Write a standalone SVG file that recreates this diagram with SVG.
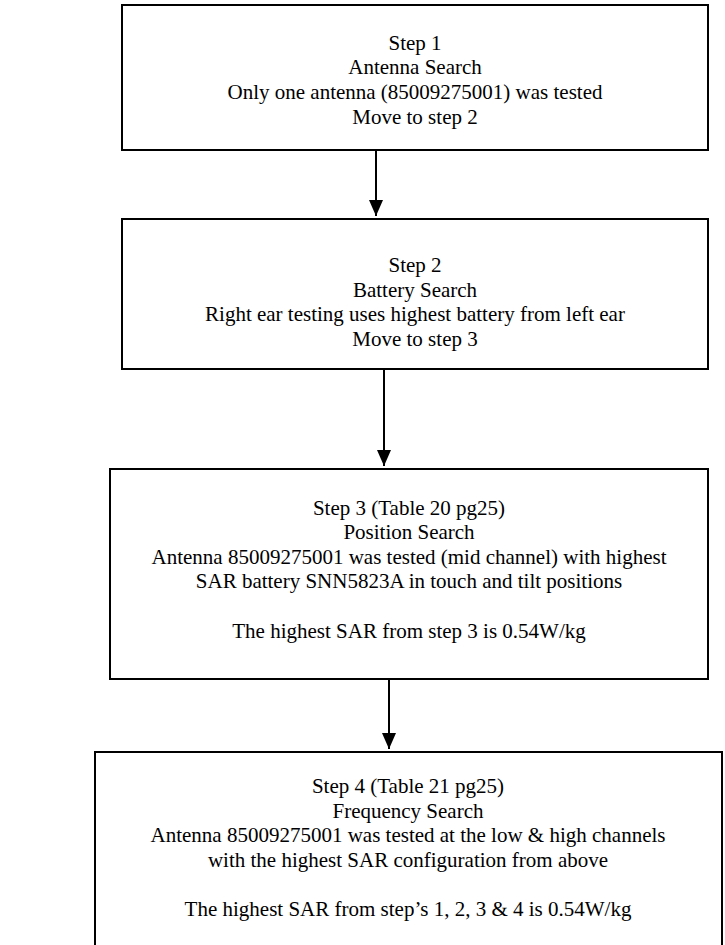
<svg xmlns="http://www.w3.org/2000/svg" width="725" height="945" viewBox="0 0 725 945">
<style>
.box{fill:#fff;stroke:#000;stroke-width:2}
.t{font-family:"Liberation Serif","Times New Roman",serif;font-size:21px;fill:#000;text-anchor:middle}
.c{stroke:#000;stroke-width:2;fill:none}
</style>
<defs>
<marker id="ah" viewBox="0 0 16 14" refX="16" refY="7" markerWidth="16" markerHeight="14" markerUnits="userSpaceOnUse" orient="auto">
<path d="M0,0 L16,7 L0,14 z" fill="#000"/>
</marker>
</defs>
<rect width="725" height="945" fill="#fff"/>
<g id="step1">
<rect class="box" x="122" y="5" width="586" height="145"/>
<text class="t" x="415" y="50">Step 1</text>
<text class="t" x="415" y="74">Antenna Search</text>
<text class="t" x="415" y="99">Only one antenna (85009275001) was tested</text>
<text class="t" x="415" y="124">Move to step 2</text>
</g>
<g id="step2">
<rect class="box" x="122" y="219" width="586" height="150"/>
<text class="t" x="415" y="272">Step 2</text>
<text class="t" x="415" y="297">Battery Search</text>
<text class="t" x="415" y="321">Right ear testing uses highest battery from left ear</text>
<text class="t" x="415" y="346">Move to step 3</text>
</g>
<g id="step3">
<rect class="box" x="110" y="469" width="598" height="210"/>
<text class="t" x="409" y="515">Step 3 (Table 20 pg25)</text>
<text class="t" x="409" y="539">Position Search</text>
<text class="t" x="409" y="564">Antenna 85009275001 was tested (mid channel) with highest</text>
<text class="t" x="409" y="588">SAR battery SNN5823A in touch and tilt positions</text>
<text class="t" x="409" y="638">The highest SAR from step 3 is 0.54W/kg</text>
</g>
<g id="step4">
<rect class="box" x="95" y="752" width="627" height="200"/>
<text class="t" x="408" y="793">Step 4 (Table 21 pg25)</text>
<text class="t" x="408" y="818">Frequency Search</text>
<text class="t" x="408" y="842">Antenna 85009275001 was tested at the low &amp; high channels</text>
<text class="t" x="408" y="867">with the highest SAR configuration from above</text>
<text class="t" x="408" y="916">The highest SAR from step’s 1, 2, 3 &amp; 4 is 0.54W/kg</text>
</g>
<g id="connectors">
<line class="c" x1="376" y1="150" x2="376" y2="216" marker-end="url(#ah)"/>
<line class="c" x1="384" y1="369" x2="384" y2="466" marker-end="url(#ah)"/>
<line class="c" x1="389" y1="679" x2="389" y2="749" marker-end="url(#ah)"/>
</g>
</svg>
